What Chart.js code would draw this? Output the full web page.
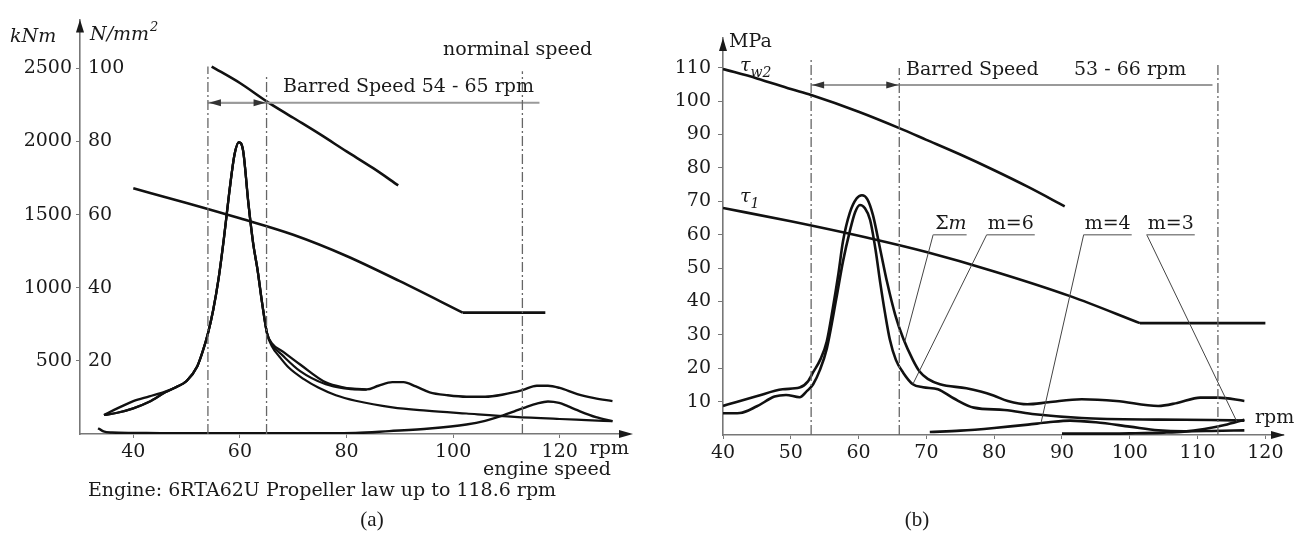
<!DOCTYPE html>
<html>
<head>
<meta charset="utf-8">
<script src="https://cdn.jsdelivr.net/npm/chart.js@4.4.1/dist/chart.umd.min.js"></script>
<style>
  html, body { margin: 0; padding: 0; background: #fff; }
  #wrap { position: relative; width: 1304px; height: 546px; }
  #left { position: absolute; left: 0; top: 0; }
  #right { position: absolute; left: 650px; top: 0; }
</style>
</head>
<body>
<div id="wrap">
  <canvas id="left" width="650" height="546" style="width:650px;height:546px"></canvas>
  <canvas id="right" width="654" height="546" style="width:654px;height:546px"></canvas>
</div>
<script>
// ---- panel (a): 6RTA62U, stress in N/mm2 (torque kNm = 25 x stress) ----
const aTicksX = [40, 60, 80, 100, 120];
const aTicksStress = [20, 40, 60, 80, 100];
const aTicksTorque = [500, 1000, 1500, 2000, 2500];

const aLimitRpm = [54.7, 60, 65, 70, 75, 80, 85, 89.7];
const aLimit = [100.5, 96, 91, 86.5, 82, 77.3, 72.7, 68];

// sloped part, then flat part after the kink
const aTauRpm = [40, 50, 60, 70, 80, 90, 101.8];
const aTau = [67.2, 63.2, 59.0, 54.5, 48.7, 41.8, 33.2];
const aTauFlatRpm = [101.8, 117.3];
const aTauFlat = [33.2, 33.2];

// low speed loop: upper / lower path
const aLoopHiRpm = [34.5, 37, 40, 43, 46];
const aLoopHi = [5.2, 7, 9, 10.3, 11.6];
const aLoopLoRpm = [34.5, 37, 40, 43, 46];
const aLoopLo = [5.2, 5.8, 7, 8.8, 11.4];

// shared resonance peak
const aPeakRpm = [48, 50, 52, 53, 54, 55, 56, 57, 58, 59, 59.8, 60.6, 61.6, 62.5, 63.3, 64.2, 65.1];
const aPeak = [12.8, 14.5, 18.5, 22.5, 27.5, 34, 42.5, 53.5, 66, 76.5, 79.8, 77.5, 63, 52, 45, 35.5, 27.5];

// branches above the peak
const aUpperRpm = [66, 68, 71.3, 76.1, 79.6, 82, 83.8, 86, 88.6, 90.7, 93, 95.6, 99, 102.5, 106, 109.4, 113, 115.7, 117.8, 120, 123.3, 126.5, 129.9];
const aUpper = [24.8, 22.6, 19, 14.1, 12.7, 12.3, 12.2, 13.2, 14.2, 14.2, 13, 11.4, 10.6, 10.2, 10.2, 10.8, 12, 13.2, 13.2, 12.6, 10.9, 9.8, 9];
const aMiddleRpm = [66, 68, 71.3, 76.1, 79.6, 83.8];
const aMiddle = [24.5, 21.5, 17.2, 13.6, 12.5, 12.1];
const aTailRpm = [66, 67.5, 69.2, 72, 74.7, 78, 81.7, 88.6, 95, 102.5, 111.5, 120, 125, 129.9];
const aTail = [24, 21, 18.1, 15, 12.7, 10.6, 9.1, 7.3, 6.4, 5.6, 4.7, 4.1, 3.8, 3.5];

const aLowRpm = [33.4, 34.4, 36, 40, 47, 60, 70, 81.7, 88, 95.6, 102.5, 106, 109.4, 111.5, 113.6, 115.7, 117.8, 119.9, 121.5, 123.3, 126.8, 129.9];
const aLow = [1.6, 0.7, 0.4, 0.3, 0.2, 0.2, 0.2, 0.3, 0.8, 1.5, 2.6, 3.6, 5.1, 6.2, 7.3, 8.3, 8.9, 8.5, 7.6, 6.5, 4.6, 3.5];

const aGuideRpm = [54, 65, 113];
const aGuideTop = [100.5, 98.4, 99.2];
const aBarredRpm = [54, 116.2];
const aBarredLevel = 90.6;
const aArrowRpm = [54, 65];

// ---- panel (b): stress in MPa ----
const bTicksX = [40, 50, 60, 70, 80, 90, 100, 110, 120];
const bTicksY = [10, 20, 30, 40, 50, 60, 70, 80, 90, 100, 110];

const bTauW2Rpm = [40, 45, 50, 53, 60, 66, 70, 75, 80, 85, 90.4];
const bTauW2 = [109.6, 106.8, 103.6, 101.8, 96.8, 91.9, 88.4, 84, 79.3, 74.3, 68.5];

const bTau1Rpm = [40, 50, 62.1, 70, 80, 91.2, 101.5];
const bTau1 = [68, 64, 58.7, 54.8, 49, 41.6, 33.5];
const bTau1FlatRpm = [101.5, 120];
const bTau1Flat = [33.5, 33.5];

const bSumRpm = [40, 42, 44.8, 48.8, 51.3, 52.5, 53.3, 54.4, 55.3, 56.2, 57, 57.7, 58.7, 59.7, 60.5, 61.3, 62.1, 63.2, 64.2, 65.4, 66.6, 68, 69, 70.2, 72, 75.9, 78, 79.9, 82, 84.9, 88, 92.9, 98, 104.2, 107, 110.4, 113, 116.9];
const bSum = [8.7, 9.9, 11.5, 13.7, 14.2, 16, 18.8, 22.8, 28, 38, 48, 58, 66.5, 70.8, 71.8, 70.6, 66, 55.5, 45.8, 36, 28.8, 22.5, 19, 16.8, 15.2, 14, 13, 11.8, 10.2, 9.2, 9.8, 10.7, 10.2, 8.7, 9.6, 11.2, 11.2, 10.2];

const bM6Rpm = [40, 42.5, 45, 47.6, 49.3, 51.3, 52.4, 53.3, 54.3, 55.3, 56.7, 57.7, 58.7, 59.5, 60.2, 60.9, 61.7, 62.5, 63.2, 63.9, 64.6, 65.5, 66.6, 68, 69.5, 71.7, 74, 77, 81.5, 86, 92.9, 104.2, 112, 116.9];
const bM6 = [6.5, 6.6, 8.6, 11.5, 12, 11.3, 13.2, 15.2, 19.5, 25.8, 40.7, 52, 61, 66.8, 68.9, 68, 64.4, 55.5, 45.5, 36.5, 28.7, 22.5, 18.6, 15.2, 14.3, 13.7, 11, 8.2, 7.5, 6.2, 5.1, 4.6, 4.5, 4.3];

const bM4Rpm = [70.5, 75, 80, 85, 88, 91.2, 95, 100, 104.2, 108, 112, 116.9];
const bM4 = [0.9, 1.3, 2.1, 3.1, 3.8, 4.3, 3.8, 2.5, 1.4, 1.1, 1.2, 1.4];

const bM3Rpm = [90, 95, 100, 105, 108, 111, 114, 116.9];
const bM3 = [0.4, 0.4, 0.5, 0.7, 1.0, 1.8, 3.0, 4.6];

const bGuideRpm = [53, 66, 113];
const bGuideTop = [112.3, 109.9, 110.8];
const bBarredRpm = [53, 112.2];
const bBarredLevel = 104.8;
const bArrowRpm = [53, 66];

const bLabels = ['Σm', 'm=6', 'm=4', 'm=3'];
const bLabelRpm = [71, 78.9, 93.2, 102.5];
const bLabelLevel = 60;
const bTargetRpm = [66.8, 68, 86.9, 115.8];

// ---- helpers ----
const SERIF = '"DejaVu Serif", serif';
const INK = '#1a1a1a';

function pts(xs, ys) { return xs.map((v, i) => ({ x: v, y: ys[i] })); }
function curve(xs, ys, w) {
  return { data: pts(xs, ys), borderColor: '#111', borderWidth: w || 2.6, pointRadius: 0,
    cubicInterpolationMode: 'monotone', fill: false, xAxisID: 'x', yAxisID: 'y' };
}
function rule(xs, ys, color, w, dash) {
  return { data: pts(xs, ys), borderColor: color, borderWidth: w, borderDash: dash || [],
    pointRadius: 0, tension: 0, fill: false, xAxisID: 'x', yAxisID: 'y' };
}
function valueAt(xs, ys, r) {
  for (let i = 1; i < xs.length; i++) {
    if (r <= xs[i]) {
      const t = (r - xs[i - 1]) / (xs[i] - xs[i - 1]);
      return ys[i - 1] + t * (ys[i] - ys[i - 1]);
    }
  }
  return ys[ys.length - 1];
}
function tri(ctx, x, y, dir, len, half) {
  ctx.beginPath();
  if (dir === 'up') { ctx.moveTo(x, y); ctx.lineTo(x - half, y + len); ctx.lineTo(x + half, y + len); }
  if (dir === 'right') { ctx.moveTo(x, y); ctx.lineTo(x - len, y - half); ctx.lineTo(x - len, y + half); }
  if (dir === 'left') { ctx.moveTo(x, y); ctx.lineTo(x + len, y - half); ctx.lineTo(x + len, y + half); }
  ctx.closePath();
  ctx.fill();
}
function txt(ctx, s, x, y, font, align) {
  ctx.font = font;
  ctx.textAlign = align || 'left';
  ctx.textBaseline = 'middle';
  ctx.fillText(s, x, y);
  return ctx.measureText(s).width;
}
const F = '19px ' + SERIF;
const FI = 'italic 19px ' + SERIF;
const tickFont = { family: '"DejaVu Serif", serif', size: 19 };
const dashDot = [10, 3, 2, 3];

// ---- panel (a) ----
const notesA = {
  id: 'notesA',
  afterDraw(chart) {
    const { ctx, chartArea: ca, scales: { x, y } } = chart;
    ctx.save();
    ctx.fillStyle = INK;
    tri(ctx, ca.left, ca.top, 'up', 13, 4);
    tri(ctx, ca.right + 4, ca.bottom, 'right', 14, 4);
    // barred range arrows
    const ly = y.getPixelForValue(aBarredLevel);
    ctx.fillStyle = '#333';
    tri(ctx, x.getPixelForValue(aArrowRpm[0]) + 1, ly, 'left', 12, 3.5);
    tri(ctx, x.getPixelForValue(aArrowRpm[1]) - 1, ly, 'right', 12, 3.5);
    ctx.fillStyle = INK;
    txt(ctx, 'kNm', ca.left - 70, ca.top + 18, FI);
    const w = txt(ctx, 'N/mm', ca.left + 10, ca.top + 16, FI);
    txt(ctx, '2', ca.left + 10 + w + 1, ca.top + 8, 'italic 13px ' + SERIF);
    txt(ctx, 'norminal speed', ca.left + 363, ca.top + 31, F);
    txt(ctx, 'Barred Speed 54 - 65 rpm', ca.left + 203, ca.top + 68, F);
    txt(ctx, 'rpm', x.getPixelForValue(120) + 30, ca.bottom + 15, F);
    txt(ctx, 'engine speed', ca.left + 403, ca.bottom + 36, F);
    txt(ctx, 'Engine: 6RTA62U Propeller law up to 118.6 rpm', ca.left + 8, ca.bottom + 57, F);
    txt(ctx, '(a)', ca.left + 292, ca.bottom + 86, '21px "Liberation Serif", serif', 'center');
    ctx.restore();
  }
};

const aSets = [
  rule([aGuideRpm[0], aGuideRpm[0]], [0, aGuideTop[0]], '#666', 1.3, dashDot),
  rule([aGuideRpm[1], aGuideRpm[1]], [0, aGuideTop[1]], '#666', 1.3, dashDot),
  rule([aGuideRpm[2], aGuideRpm[2]], [0, aGuideTop[2]], '#666', 1.3, dashDot),
  rule(aBarredRpm, [aBarredLevel, aBarredLevel], '#9a9a9a', 2),
  rule(aArrowRpm, [aBarredLevel, aBarredLevel], '#555', 1.4),
  curve(aLimitRpm, aLimit, 2.6),
  curve(aTauRpm, aTau, 2.6),
  rule(aTauFlatRpm, aTauFlat, '#111', 2.6),
  curve(aLoopHiRpm.concat(aPeakRpm, aUpperRpm), aLoopHi.concat(aPeak, aUpper), 2.4),
  curve(aLoopLoRpm.concat(aPeakRpm, aMiddleRpm), aLoopLo.concat(aPeak, aMiddle), 2.2),
  curve(aLoopLoRpm.concat(aPeakRpm, aTailRpm), aLoopLo.concat(aPeak, aTail), 2.2),
  curve(aLowRpm, aLow, 2.4)
];

new Chart(document.getElementById('left'), {
  type: 'line',
  data: { datasets: aSets },
  options: {
    responsive: false,
    animation: false,
    layout: { padding: { top: 12, right: 21, left: 0, bottom: 0 } },
    plugins: { legend: { display: false }, tooltip: { enabled: false } },
    scales: {
      x: {
        type: 'linear', min: 30, max: 133,
        afterBuildTicks: s => { s.ticks = aTicksX.map(v => ({ value: v })); },
        afterFit: s => { s.height = 112; },
        grid: { drawOnChartArea: false, tickLength: 4, color: '#777' },
        border: { color: '#777', width: 1.6 },
        ticks: { font: tickFont, color: INK, padding: 3, maxRotation: 0, callback: v => String(v) }
      },
      yk: {
        type: 'linear', position: 'left', weight: 1, min: 0, max: 2835,
        afterBuildTicks: s => { s.ticks = aTicksTorque.map(v => ({ value: v })); },
        afterFit: s => { s.width = 80; },
        grid: { drawOnChartArea: false, tickLength: 4, color: '#777' },
        border: { color: '#777', width: 1.6 },
        ticks: { font: tickFont, color: INK, padding: 4, callback: v => String(v) }
      },
      y: {
        type: 'linear', position: 'left', weight: 0, min: 0, max: 113.4,
        afterBuildTicks: s => { s.ticks = aTicksStress.map(v => ({ value: v })); },
        afterFit: s => { s.width = 0; },
        grid: { display: false },
        border: { display: false },
        ticks: { font: tickFont, color: INK, mirror: true, padding: 8, callback: v => String(v) }
      }
    }
  },
  plugins: [notesA]
});

// ---- panel (b) ----
const notesB = {
  id: 'notesB',
  afterDraw(chart) {
    const { ctx, chartArea: ca, scales: { x, y } } = chart;
    ctx.save();
    ctx.fillStyle = INK;
    tri(ctx, ca.left, ca.top, 'up', 13, 4);
    tri(ctx, ca.right + 2, ca.bottom, 'right', 14, 4);
    const ly = y.getPixelForValue(bBarredLevel);
    ctx.fillStyle = '#333';
    tri(ctx, x.getPixelForValue(bArrowRpm[0]) + 1, ly, 'left', 12, 3.5);
    tri(ctx, x.getPixelForValue(bArrowRpm[1]) - 1, ly, 'right', 12, 3.5);
    ctx.fillStyle = INK;
    txt(ctx, 'MPa', ca.left + 6, ca.top + 4, F);
    let w = txt(ctx, 'τ', ca.left + 17, ca.top + 28, FI);
    txt(ctx, 'w2', ca.left + 17 + w, ca.top + 35, 'italic 14px ' + SERIF);
    w = txt(ctx, 'τ', ca.left + 17, ca.top + 159, FI);
    txt(ctx, '1', ca.left + 17 + w, ca.top + 166, 'italic 14px ' + SERIF);
    txt(ctx, 'Barred Speed', ca.left + 183, ca.top + 32, F);
    txt(ctx, '53 - 66 rpm', ca.left + 351, ca.top + 32, F);
    // labels with underline
    const uy = y.getPixelForValue(bLabelLevel);
    bLabels.forEach((s, i) => {
      const lx = x.getPixelForValue(bLabelRpm[i]);
      let tw;
      if (s === 'Σm') {
        const a = txt(ctx, 'Σ', lx + 2, uy - 11, F);
        tw = a + txt(ctx, 'm', lx + 2 + a, uy - 11, FI) + 2;
      } else {
        tw = txt(ctx, s, lx + 1, uy - 11, F) + 2;
      }
      ctx.strokeStyle = '#888';
      ctx.lineWidth = 1.5;
      ctx.beginPath();
      ctx.moveTo(lx, uy);
      ctx.lineTo(lx + tw, uy);
      ctx.stroke();
    });
    txt(ctx, 'rpm', ca.right - 28, ca.bottom - 17, F);
    txt(ctx, '(b)', ca.left + 194, ca.bottom + 85, '21px "Liberation Serif", serif', 'center');
    ctx.restore();
  }
};

const bSeries = [[bSumRpm, bSum], [bM6Rpm, bM6], [bM4Rpm, bM4], [bM3Rpm, bM3]];
const bLeaders = bLabels.map((s, i) =>
  rule([bLabelRpm[i], bTargetRpm[i]],
       [bLabelLevel, valueAt(bSeries[i][0], bSeries[i][1], bTargetRpm[i])], '#444', 1));

const bSets = [
  rule([bGuideRpm[0], bGuideRpm[0]], [0, bGuideTop[0]], '#666', 1.3, dashDot),
  rule([bGuideRpm[1], bGuideRpm[1]], [0, bGuideTop[1]], '#666', 1.3, dashDot),
  rule([bGuideRpm[2], bGuideRpm[2]], [0, bGuideTop[2]], '#666', 1.3, dashDot),
  rule(bBarredRpm, [bBarredLevel, bBarredLevel], '#9a9a9a', 2),
  rule(bArrowRpm, [bBarredLevel, bBarredLevel], '#555', 1.4),
  ...bLeaders,
  curve(bTauW2Rpm, bTauW2, 2.6),
  curve(bTau1Rpm, bTau1, 2.6),
  rule(bTau1FlatRpm, bTau1Flat, '#111', 2.6),
  curve(bSumRpm, bSum, 2.6),
  curve(bM6Rpm, bM6, 2.6),
  curve(bM4Rpm, bM4, 2.6),
  curve(bM3Rpm, bM3, 2.6)
];

new Chart(document.getElementById('right'), {
  type: 'line',
  data: { datasets: bSets },
  options: {
    responsive: false,
    animation: false,
    layout: { padding: { top: 38, right: 21, left: 0, bottom: 0 } },
    plugins: { legend: { display: false }, tooltip: { enabled: false } },
    scales: {
      x: {
        type: 'linear', min: 40, max: 122.6,
        afterBuildTicks: s => { s.ticks = bTicksX.map(v => ({ value: v })); },
        afterFit: s => { s.height = 111; },
        grid: { drawOnChartArea: false, tickLength: 4, color: '#777' },
        border: { color: '#777', width: 1.6 },
        ticks: { font: tickFont, color: INK, padding: 3, maxRotation: 0, callback: v => String(v) }
      },
      y: {
        type: 'linear', position: 'left', min: 0, max: 118.9,
        afterBuildTicks: s => { s.ticks = bTicksY.map(v => ({ value: v })); },
        afterFit: s => { s.width = 73; },
        grid: { drawOnChartArea: false, tickLength: 5, color: '#777' },
        border: { color: '#777', width: 1.6 },
        ticks: { font: tickFont, color: INK, padding: 7, callback: v => String(v) }
      }
    }
  },
  plugins: [notesB]
});
</script>
</body>
</html>
